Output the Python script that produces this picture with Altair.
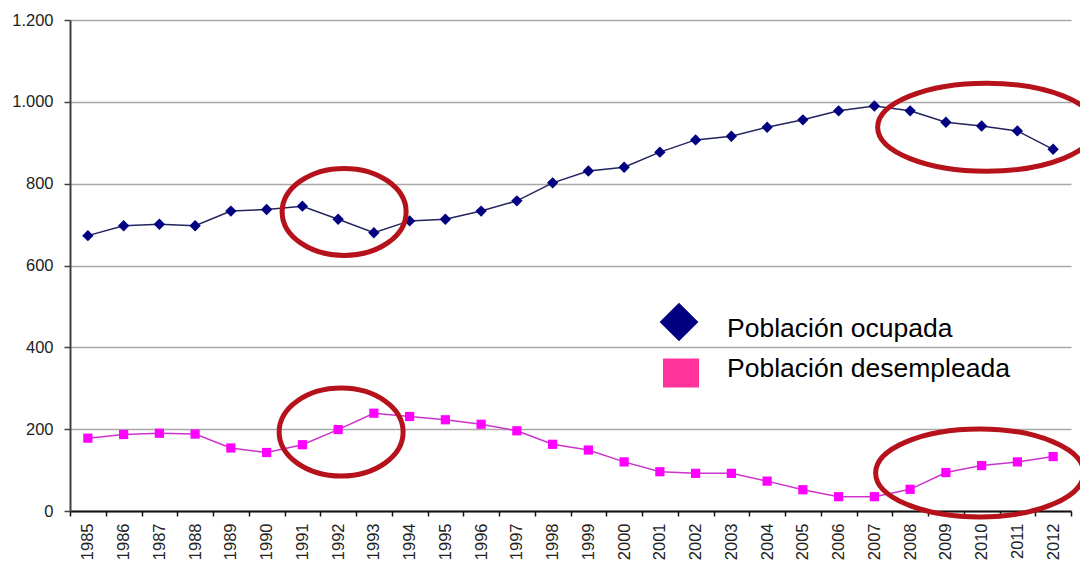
import altair as alt
import pandas as pd

# ---- data ----
years = ["1985", "1986", "1987", "1988", "1989", "1990", "1991", "1992", "1993", "1994",
         "1995", "1996", "1997", "1998", "1999", "2000", "2001", "2002", "2003", "2004",
         "2005", "2006", "2007", "2008", "2009", "2010", "2011", "2012"]
ocupada = [673, 697, 701, 697, 733, 737, 745, 713, 680, 709, 713, 733, 758, 802,
           831, 840, 877, 907, 916, 938, 956, 978, 990, 978, 950, 941, 929, 884]
desempleada = [178, 187, 190, 188, 154, 143, 162, 199, 239, 231, 223, 212, 196, 163,
               149, 120, 96, 92, 92, 73, 52, 35, 35, 53, 94, 111, 120, 133]
series_names = ["Población ocupada", "Población desempleada"]
y_ticks = [0, 200, 400, 600, 800, 1000, 1200]

# highlighted zones (red ellipses): centre year and centre value
highlight_years = ["1992", "2010", "1992", "2010"]
highlight_values = [731, 938, 193, 93]

FONT = "Liberation Sans"
NAVY = "#000080"
MAGENTA = "#FF00FF"
RED = "#B5121B"

df_occ = pd.DataFrame({"year": years, "value": ocupada, "serie": series_names[0]})
df_des = pd.DataFrame({"year": years, "value": desempleada, "serie": series_names[1]})
df_hl = pd.DataFrame({"year": highlight_years, "value": highlight_values})

x_enc = alt.X(
    "year:O",
    sort=years,
    scale=alt.Scale(domain=years, paddingInner=0, paddingOuter=0),
    axis=alt.Axis(
        title=None, labelAngle=270, tickBand="extent", grid=False,
        domainColor="#111111", domainWidth=2, tickColor="#111111", tickWidth=1.5,
        tickSize=5, labelPadding=7, labelFont=FONT, labelFontSize=16.5,
        labelColor="#222222",
    ),
)
y_enc = alt.Y(
    "value:Q",
    scale=alt.Scale(domain=[0, 1200], nice=False, zero=True),
    axis=alt.Axis(
        title=None, values=y_ticks,
        labelExpr="replace(format(datum.value, ','), ',', '.')",
        grid=True, gridColor="#A8A8A8", gridWidth=1.5,
        domainColor="#404040", domainWidth=2, tickColor="#404040", tickWidth=1.5,
        tickSize=6, labelPadding=11, labelFont=FONT, labelFontSize=16.5,
        labelColor="#222222",
    ),
)

occ_line = alt.Chart(df_occ).mark_line(color="#23235F", strokeWidth=1.5).encode(x=x_enc, y=y_enc)
occ_pts = alt.Chart(df_occ).mark_point(shape="diamond", filled=True, color=NAVY, size=130, opacity=1).encode(x=x_enc, y=y_enc)
des_line = alt.Chart(df_des).mark_line(color="#CC33CC", strokeWidth=1.5).encode(x=x_enc, y=y_enc)
des_pts = alt.Chart(df_des).mark_point(shape="square", filled=True, color=MAGENTA, size=85, opacity=1).encode(x=x_enc, y=y_enc)


def ellipse_path(ratio):
    k = 0.5523
    e = ratio
    return (f"M -1 0 C -1 {-k*e:.4f} {-k:.4f} {-e:.4f} 0 {-e:.4f} "
            f"C {k:.4f} {-e:.4f} 1 {-k*e:.4f} 1 0 "
            f"C 1 {k*e:.4f} {k:.4f} {e:.4f} 0 {e:.4f} "
            f"C {-k:.4f} {e:.4f} -1 {k*e:.4f} -1 0 Z")


# ellipse styles: width, height, horizontal nudge (px)
ellipse_styles = [(124, 87, 6), (218, 88, 5), (124, 88, 3), (208, 88, -2)]
ellipses = []
for i, (w, h, dx) in enumerate(ellipse_styles):
    ellipses.append(
        alt.Chart(df_hl.iloc[[i]]).mark_point(
            shape=ellipse_path(h / w), size=w * w, filled=False,
            stroke=RED, strokeWidth=5, opacity=1, xOffset=dx,
        ).encode(x=x_enc, y=y_enc)
    )

# legend (drawn inside the plot, as in the reference)
df_leg = pd.DataFrame({"serie": series_names})
leg_diamond = alt.Chart(df_leg.iloc[[0]]).mark_point(
    shape="diamond", filled=True, color=NAVY, size=1500, opacity=1
).encode(x=alt.value(609), y=alt.value(302))
leg_square = alt.Chart(df_leg.iloc[[1]]).mark_point(
    shape="M -1 -0.8 L 1 -0.8 L 1 0.8 L -1 0.8 Z", filled=True, color="#FF3399",
    size=1296, opacity=1
).encode(x=alt.value(611), y=alt.value(353))
leg_text1 = alt.Chart(df_leg.iloc[[0]]).mark_text(
    align="left", baseline="alphabetic", font=FONT, fontSize=26.5, color="#000000"
).encode(x=alt.value(657), y=alt.value(317), text="serie:N")
leg_text2 = alt.Chart(df_leg.iloc[[1]]).mark_text(
    align="left", baseline="alphabetic", font=FONT, fontSize=26.5, color="#000000"
).encode(x=alt.value(657), y=alt.value(357), text="serie:N")

chart = alt.layer(
    occ_line, occ_pts, des_line, des_pts, *ellipses,
    leg_diamond, leg_square, leg_text1, leg_text2,
).properties(
    width=1001, height=491,
    padding={"left": 62, "top": 12, "right": 9, "bottom": 50},
    autosize=alt.AutoSizeParams(type="none"),
    background="white",
).configure_view(stroke=None)

chart.save("out.html", embed_options={"renderer": "svg", "actions": False})
